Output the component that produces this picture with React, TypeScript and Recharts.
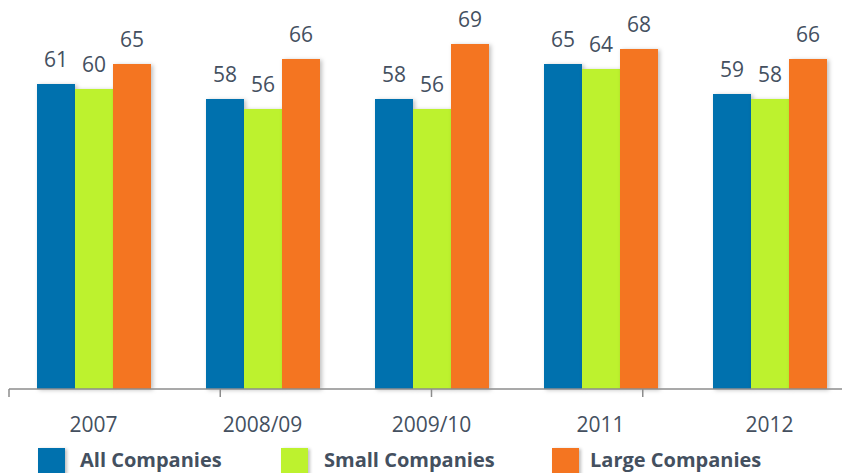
import React from "react";
import { BarChart, Bar, XAxis, YAxis, LabelList } from "recharts";

const years = ["2007", "2008/09", "2009/10", "2011", "2012"];
const allCompanies = [61, 58, 58, 65, 59];
const smallCompanies = [60, 56, 56, 64, 58];
const largeCompanies = [65, 66, 69, 68, 66];
const boundaryTicks = [0, 1, 2, 3, 4, 5];

const series = [
  { key: "all", name: "All Companies", color: "#0071AE" },
  { key: "small", name: "Small Companies", color: "#BDF22E" },
  { key: "large", name: "Large Companies", color: "#F47521" },
];

const data = years.map((year, i) => ({
  year,
  all: allCompanies[i],
  small: smallCompanies[i],
  large: largeCompanies[i],
}));

const FONT = "'Open Sans', sans-serif";
const TEXT = "#44505F";

const ShadowBar = (props: any) => {
  const { x, y, width, height, fill } = props;
  return (
    <rect
      x={x}
      y={y}
      width={width}
      height={height}
      fill={fill}
      style={{ filter: "drop-shadow(2px 1px 2px rgba(0,0,0,0.25))" }}
    />
  );
};

const ValueLabel = (props: any) => {
  const { x, y, width, value } = props;
  return (
    <text
      x={x + width / 2}
      y={y - 17}
      textAnchor="middle"
      fontFamily={FONT}
      fontSize={21}
      fill={TEXT}
    >
      {value}
    </text>
  );
};

const YearTick = (props: any) => {
  const { x, y, payload } = props;
  return (
    <text
      x={x}
      y={y + 27}
      textAnchor="middle"
      fontFamily={FONT}
      fontSize={21}
      fill={TEXT}
    >
      {payload.value}
    </text>
  );
};

const legendPos = [
  { marker: 38, text: 80 },
  { marker: 281, text: 324 },
  { marker: 552, text: 590 },
];

export default function App() {
  return (
    <div
      style={{
        position: "absolute",
        left: 0,
        top: 0,
        width: 842,
        height: 473,
        overflow: "hidden",
        background: "#fff",
      }}
    >
      <BarChart
        width={858}
        height={440}
        data={data}
        margin={{ top: 0, right: 4, left: 9, bottom: 0 }}
        barGap={0}
        barCategoryGap={28}
      >
        <XAxis
          xAxisId="a"
          type="number"
          domain={[0, 5]}
          allowDataOverflow
          ticks={boundaryTicks}
          tickFormatter={() => ""}
          height={8}
          tickSize={8}
          axisLine={{ stroke: "#8C8C8C", strokeWidth: 1.5 }}
          tickLine={{ stroke: "#8C8C8C", strokeWidth: 1.5 }}
        />
        <XAxis
          xAxisId="b"
          dataKey="year"
          height={43}
          axisLine={false}
          tickLine={false}
          tick={<YearTick />}
          interval={0}
        />
        <YAxis hide domain={[0, 77.8]} />
        {series.map((s) => (
          <Bar
            key={s.key}
            xAxisId="b"
            dataKey={s.key}
            name={s.name}
            fill={s.color}
            shape={<ShadowBar />}
            isAnimationActive={false}
          >
            <LabelList dataKey={s.key} content={<ValueLabel />} />
          </Bar>
        ))}
      </BarChart>
      {series.map((s, i) => (
        <div key={s.key}>
          <div
            style={{
              position: "absolute",
              left: legendPos[i].marker,
              top: 448,
              width: 27,
              height: 27,
              background: s.color,
              boxShadow: "2px 1px 3px rgba(0,0,0,0.25)",
            }}
          />
          <div
            style={{
              position: "absolute",
              left: legendPos[i].text,
              top: 445,
              fontFamily: FONT,
              fontWeight: 700,
              fontSize: 20,
              lineHeight: "30px",
              color: TEXT,
              whiteSpace: "nowrap",
            }}
          >
            {s.name}
          </div>
        </div>
      ))}
    </div>
  );
}
